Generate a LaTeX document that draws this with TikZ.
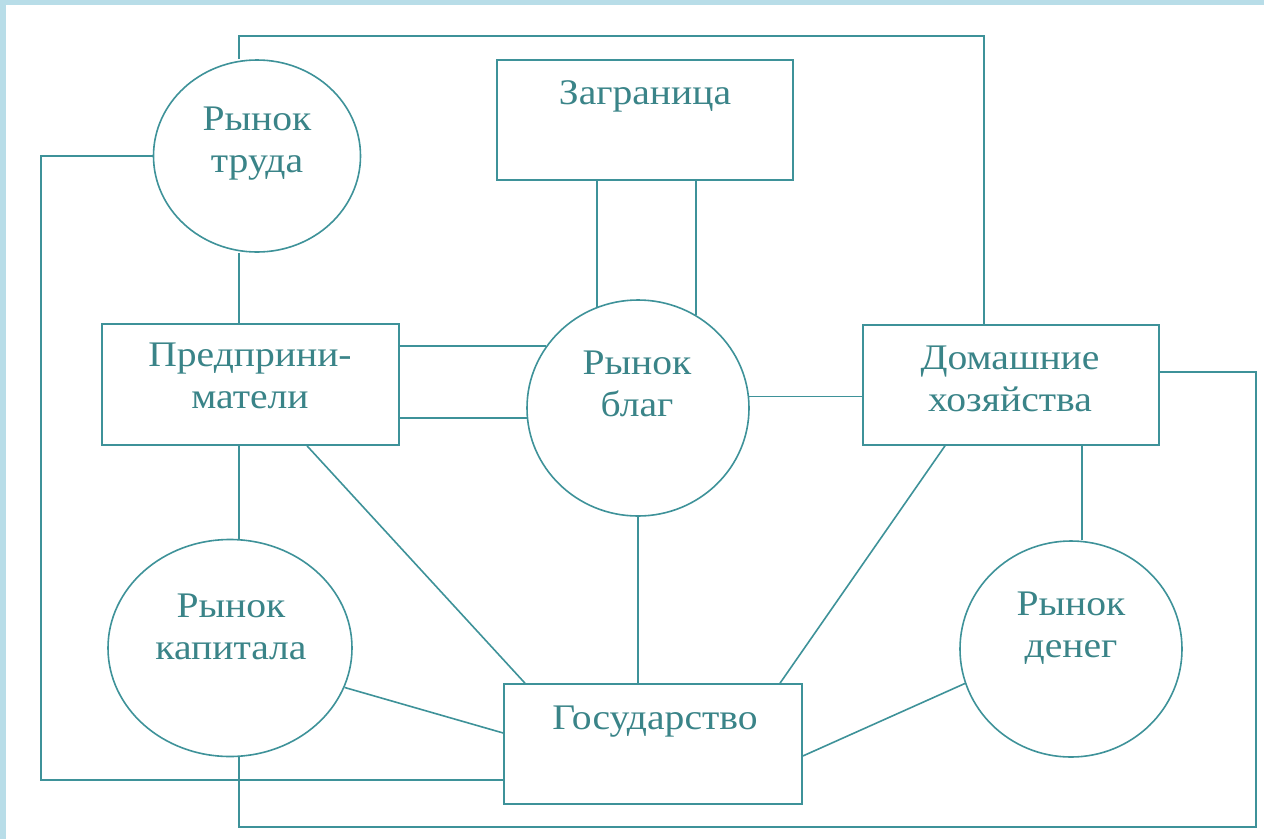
\documentclass[tikz,border=0pt]{standalone}
\usepackage{fontspec}
\setmainfont[FakeStretch=1.1]{Liberation Serif}
\usetikzlibrary{shapes.geometric}
\definecolor{frameblue}{HTML}{B8DDE8}
\definecolor{lncol}{HTML}{3E9299}
\definecolor{txtcol}{HTML}{3A8488}
\tikzset{
  ln/.style={draw=lncol, line width=1.6pt},
  oval/.style={ellipse, draw=lncol, line width=1.6pt, inner sep=0pt},
  rbox/.style={rectangle, draw=lncol, line width=1.6pt, inner sep=0pt},
  lbl/.style={anchor=north, inner sep=0pt, align=center, text=txtcol,
              font=\fontsize{36}{42}\selectfont}
}
\begin{document}
\begin{tikzpicture}[x=1pt,y=-1pt]
\useasboundingbox (0,0) rectangle (1264,839);
\fill[frameblue] (0,0) rectangle (1264,839);
\fill[white] (6,5) rectangle (1264,839);

% shapes
\node[oval, minimum width=207pt, minimum height=192pt] (trud) at (257,156) {};
\node[oval, minimum width=222pt, minimum height=216pt] (blag) at (638,408) {};
\node[oval, minimum width=244pt, minimum height=217pt] (kap) at (230,648) {};
\node[oval, minimum width=222pt, minimum height=216pt] (den) at (1071,649) {};
\node[rbox, minimum width=296pt, minimum height=120pt] (zagr) at (645,120) {};
\node[rbox, minimum width=297pt, minimum height=121pt] (pred) at (250.5,384.5) {};
\node[rbox, minimum width=296pt, minimum height=120pt] (dom) at (1011,385) {};
\node[rbox, minimum width=298pt, minimum height=120pt] (gos) at (653,744) {};

% texts
\node[lbl] (trud-t) at (257,107) {Рынок\\труда};
\node[lbl] (zagr-t) at (645,80) {Заграница};
\node[lbl] (pred-t) at (250,343) {Предприни-\\матели};
\node[lbl] (blag-t) at (637,351) {Рынок\\благ};
\node[lbl] (dom-t) at (1010,346) {Домашние\\хозяйства};
\node[lbl] (kap-t) at (231,594) {Рынок\\капитала};
\node[lbl] (den-t) at (1071,592) {Рынок\\денег};
\node[lbl] (gos-t) at (655,706) {Государство};

% bend points
\coordinate (tl) at (239,36);
\coordinate (tr) at (984,36);
\coordinate (ltop) at (41,156);
\coordinate (lbot) at (41,780);
\coordinate (rtop) at (1256,372);
\coordinate (rbot) at (1256,827);
\coordinate (bbot) at (239,827);

% outer loops
\draw[ln] (tl |- trud.north) -- (tl) -- (tr) -- (tr |- dom.north);
\draw[ln] (trud.west) -- (ltop) -- (lbot) -- (lbot -| gos.west);
\draw[ln] (rtop -| dom.east) -- (rtop) -- (rbot) -- (bbot) -- (bbot |- kap.south);

% vertical links
\draw[ln] (tl |- trud.south) -- (tl |- pred.north);
\draw[ln] (tl |- pred.south) -- (tl |- kap.north);
\draw[ln] (blag.south) -- (blag.south |- gos.north);
\draw[ln] ([xshift=71pt]dom.south) -- ([xshift=71pt]dom.south |- den.north);
\draw[ln] (blag.112.3 |- zagr.south) -- (blag.112.3);
\draw[ln] (blag.58.5 |- zagr.south) -- (blag.58.5);

% horizontal links
\draw[ln] (blag.146.9) -- (blag.146.9 -| pred.east);
\draw[ln] (blag.185.2) -- (blag.185.2 -| pred.east);
\draw[ln] (blag.6.2) -- (blag.6.2 -| dom.west);

% diagonal links
\draw[ln] ([xshift=56.5pt]pred.south) -- ([xshift=-128pt]gos.north);
\draw[ln] ([xshift=-66pt]dom.south) -- ([xshift=127pt]gos.north);
\draw[ln] (kap.-19) -- ([yshift=11pt]gos.west);
\draw[ln] (den.198.3) -- ([yshift=-12pt]gos.east);
\end{tikzpicture}
\end{document}
